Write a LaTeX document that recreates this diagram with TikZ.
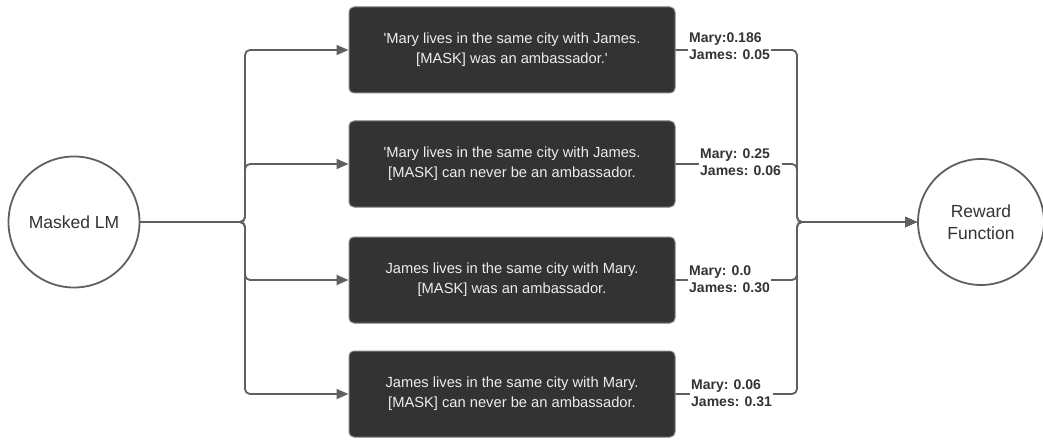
\documentclass[tikz,border=0pt]{standalone}
\usepackage{fontspec}
\setmainfont{Liberation Sans}
\usetikzlibrary{arrows.meta}
\definecolor{linec}{HTML}{5F5F5F}
\definecolor{boxc}{HTML}{333333}
\definecolor{boxtext}{HTML}{EDEDED}
\definecolor{txt}{HTML}{333333}
\begin{document}
\begin{tikzpicture}[x=1pt,y=-1pt,
 conn/.style={draw=linec, line width=1.8pt, rounded corners=5pt},
 arr/.style={-{Triangle[length=12pt,width=10pt]}},
 circ/.style={circle, draw=linec, line width=1.8pt, minimum size=131pt, inner sep=0pt, font=\fontsize{17.5}{22}\selectfont, text=txt, align=center},
 sent/.style={rectangle, rounded corners=5pt, fill=boxc, draw=linec!80, line width=1pt, minimum width=326pt, minimum height=86pt, text=boxtext, font=\fontsize{14.7}{20}\selectfont, align=center},
 score/.style={fill=white, inner sep=1pt, align=left, anchor=west, font=\bfseries\fontsize{14}{17.5}\selectfont, text=txt}]
\useasboundingbox (0,0) rectangle (1043,441);
\node[circ] (ml) at (74,222) {Masked LM};
\node[circ, minimum size=126pt] (rf) at (981,222) {Reward\\Function};
\node[sent] (b1) at (512,50) {\textquotesingle Mary lives in the same city with James.\\{}[MASK] was an ambassador.\textquotesingle};
\node[sent] (b2) at (512,164) {\textquotesingle Mary lives in the same city with James.\\{}[MASK] can never be an ambassador.};
\node[sent] (b3) at (512,280) {James lives in the same city with Mary.\\{}[MASK] was an ambassador.};
\node[sent] (b4) at (512,394) {James lives in the same city with Mary.\\{}[MASK] can never be an ambassador.};
\coordinate (jl) at (245,222);
\coordinate (jr) at (797,222);
\foreach \b in {b1,b2,b3,b4} \draw[conn,arr] (ml.east) -- (jl) |- (\b.west);
\foreach \b in {b1,b2,b3,b4} \draw[conn,arr] (\b.east) -| (jr) -- (rf.west);
\node[score] (s1) at (688,46) {Mary:0.186\\James: 0.05};
\node[score] (s2) at (699,162) {Mary: 0.25\\James: 0.06};
\node[score] (s3) at (688,279) {Mary: 0.0\\James: 0.30};
\node[score] (s4) at (690,393) {Mary: 0.06\\James: 0.31};
\end{tikzpicture}
\end{document}
